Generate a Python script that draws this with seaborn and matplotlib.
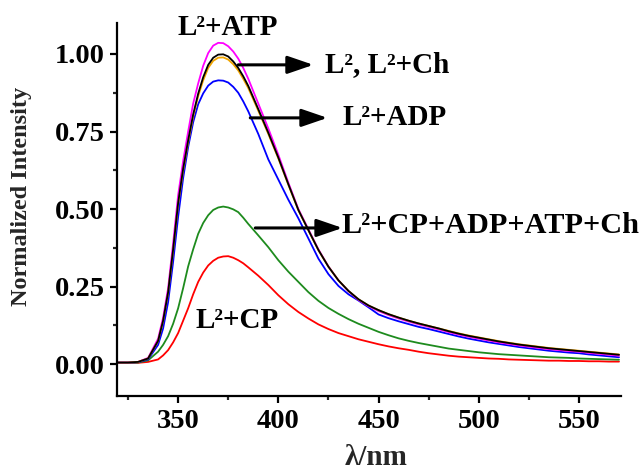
import numpy as np
import pandas as pd
import matplotlib
matplotlib.use("Agg")
import matplotlib.pyplot as plt
from matplotlib.ticker import MultipleLocator
import seaborn as sns

wavelength = [320, 325, 330, 335, 340, 342.5, 345, 347.5, 350, 352.5, 355, 357.5,
              360, 362.5, 365, 367.5, 370, 372.5, 375, 377.5, 380, 382.5, 385,
              390, 395, 400, 405, 410, 415, 420, 425, 430, 435, 440, 445, 450,
              455, 460, 465, 470, 475, 480, 485, 490, 495, 500, 505, 510, 515,
              520, 525, 530, 535, 540, 545, 550, 555, 560, 565, 570]

l2_atp = [0.005, 0.005, 0.007, 0.020, 0.082, 0.150, 0.245, 0.390, 0.545, 0.655,
          0.750, 0.840, 0.905, 0.962, 1.003, 1.027, 1.036, 1.035, 1.025, 1.008,
          0.985, 0.955, 0.920,
          0.840, 0.760, 0.675, 0.585, 0.500, 0.435, 0.370, 0.315, 0.270, 0.235,
          0.207, 0.187, 0.171, 0.158, 0.147, 0.137, 0.128, 0.120, 0.112, 0.103,
          0.095, 0.088, 0.082, 0.076, 0.070, 0.065, 0.060, 0.056, 0.052, 0.048,
          0.045, 0.042, 0.040, 0.036, 0.033, 0.030, 0.027]
l2 = [0.005, 0.005, 0.007, 0.018, 0.075, 0.140, 0.232, 0.370, 0.520, 0.630,
      0.722, 0.805, 0.872, 0.925, 0.965, 0.988, 0.998, 0.999, 0.992, 0.976,
      0.955, 0.928, 0.897,
      0.822, 0.746, 0.666, 0.580, 0.497, 0.432, 0.368, 0.314, 0.270, 0.236,
      0.209, 0.189, 0.174, 0.161, 0.150, 0.140, 0.131, 0.123, 0.115, 0.106,
      0.098, 0.091, 0.085, 0.079, 0.073, 0.068, 0.063, 0.059, 0.055, 0.051,
      0.048, 0.045, 0.042, 0.039, 0.036, 0.033, 0.030]
l2_ch = [0.005, 0.005, 0.007, 0.018, 0.074, 0.138, 0.230, 0.365, 0.515, 0.624,
         0.716, 0.798, 0.864, 0.915, 0.955, 0.978, 0.988, 0.989, 0.982, 0.967,
         0.947, 0.920, 0.890,
         0.817, 0.742, 0.663, 0.578, 0.496, 0.431, 0.367, 0.314, 0.270, 0.236,
         0.209, 0.189, 0.174, 0.161, 0.150, 0.140, 0.131, 0.123, 0.115, 0.107,
         0.099, 0.092, 0.086, 0.080, 0.074, 0.069, 0.064, 0.060, 0.056, 0.052,
         0.049, 0.046, 0.043, 0.040, 0.037, 0.034, 0.031]
l2_adp = [0.005, 0.005, 0.006, 0.015, 0.062, 0.115, 0.200, 0.330, 0.475, 0.600,
          0.700, 0.780, 0.838, 0.873, 0.898, 0.911, 0.915, 0.914, 0.908, 0.894,
          0.875, 0.847, 0.815,
          0.742, 0.660, 0.595, 0.530, 0.470, 0.405, 0.340, 0.290, 0.252, 0.225,
          0.205, 0.183, 0.160, 0.148, 0.138, 0.129, 0.120, 0.113, 0.105, 0.097,
          0.089, 0.082, 0.076, 0.070, 0.065, 0.060, 0.055, 0.051, 0.047, 0.043,
          0.040, 0.037, 0.035, 0.031, 0.028, 0.025, 0.022]
l2_mix = [0.004, 0.004, 0.005, 0.012, 0.040, 0.062, 0.090, 0.130, 0.180, 0.245,
          0.315, 0.370, 0.420, 0.455, 0.480, 0.497, 0.505, 0.508, 0.505, 0.499,
          0.490, 0.472, 0.452,
          0.415, 0.377, 0.335, 0.298, 0.265, 0.232, 0.204, 0.181, 0.162, 0.145,
          0.130, 0.117, 0.104, 0.093, 0.083, 0.075, 0.068, 0.062, 0.056, 0.050,
          0.046, 0.042, 0.038, 0.035, 0.032, 0.030, 0.028, 0.026, 0.024, 0.022,
          0.021, 0.020, 0.018, 0.017, 0.016, 0.015, 0.014]
l2_cp = [0.004, 0.004, 0.004, 0.007, 0.015, 0.028, 0.045, 0.070, 0.100, 0.140,
         0.180, 0.225, 0.265, 0.295, 0.318, 0.333, 0.343, 0.347, 0.348, 0.343,
         0.335, 0.325, 0.312,
         0.285, 0.255, 0.222, 0.193, 0.168, 0.147, 0.128, 0.113, 0.100, 0.090,
         0.080, 0.072, 0.064, 0.057, 0.051, 0.046, 0.040, 0.035, 0.031, 0.027,
         0.024, 0.022, 0.020, 0.018, 0.017, 0.015, 0.014, 0.013, 0.012, 0.011,
         0.011, 0.010, 0.010, 0.009, 0.009, 0.008, 0.008]

series_names = ["L2+CP", "L2+CP+ADP+ATP+Ch", "L2+ADP", "L2+ATP", "L2+Ch", "L2"]
series_values = [l2_cp, l2_mix, l2_adp, l2_atp, l2_ch, l2]
series_colors = ["#FF0000", "#1E8B1E", "#0000FF", "#FF00FF", "#F0A500", "#000000"]

x_ticks = [350, 400, 450, 500, 550]
y_ticks = [0.00, 0.25, 0.50, 0.75, 1.00]

df = pd.concat([pd.DataFrame({"wl": wavelength, "I": v, "s": n})
                for n, v in zip(series_names, series_values)], ignore_index=True)

sns.set_style("ticks")
plt.rcParams["font.family"] = ["Liberation Serif", "DejaVu Serif"]
plt.rcParams["font.weight"] = "bold"

fig = plt.figure(figsize=(6.44, 4.71), dpi=100)
ax = fig.add_axes([0.1817, 0.1592, 0.7826, 0.792])

sns.lineplot(data=df, x="wl", y="I", hue="s", hue_order=series_names,
             palette=dict(zip(series_names, series_colors)), linewidth=1.3,
             legend=False, ax=ax, sort=False)

ax.set_xlim(319.5, 571)
ax.set_ylim(-0.103, 1.10)
ax.set_xticks(x_ticks)
ax.set_yticks(y_ticks)
ax.set_xticklabels([str(t) for t in x_ticks])
ax.set_yticklabels([f"{t:.2f}" for t in y_ticks])
ax.xaxis.set_minor_locator(MultipleLocator(25))
ax.yaxis.set_minor_locator(MultipleLocator(0.125))
for s in ["top", "right"]:
    ax.spines[s].set_visible(False)
for s in ["left", "bottom"]:
    ax.spines[s].set_linewidth(1.6)
    ax.spines[s].set_color("black")
ax.tick_params(which="major", length=5, width=1.6, labelsize=20.5, pad=4, colors="black")
ax.tick_params(which="minor", length=3, width=1.6)
for lab in ax.get_xticklabels() + ax.get_yticklabels():
    lab.set_fontweight("bold")

ax.set_xlabel("λ/nm", fontsize=21, fontweight="bold")
ax.set_ylabel("Normalized Intensity", fontsize=17.5, fontweight="bold")
ax.xaxis.set_label_coords(0.513, -0.2)
ax.xaxis.label.set_va("bottom")
ax.yaxis.set_label_coords(-0.168, 0.535)

tkw = dict(fontsize=21, fontweight="bold", color="black", clip_on=False)
ax.text(375, 1.087, "L²+ATP", ha="center", va="center", **tkw)
ax.text(379.5, 0.142, "L²+CP", ha="center", va="center", **tkw)
ax.text(423.5, 0.965, "L², L²+Ch", ha="left", va="center", **tkw)
ax.text(432, 0.794, "L²+ADP", ha="left", va="center", **tkw)
ax.text(431.5, 0.448, "L²+CP+ADP+ATP+Ch", ha="left", va="center",
        **{**tkw, "fontsize": 21.8})

akw = dict(arrowstyle="-|>,head_length=1.05,head_width=0.36", color="black", lw=2.2,
           shrinkA=0, shrinkB=0, mutation_scale=15)
ax.annotate("", xy=(417.5, 0.965), xytext=(380, 0.965), arrowprops=akw)
ax.annotate("", xy=(424.5, 0.794), xytext=(386, 0.794), arrowprops=akw)
ax.annotate("", xy=(432, 0.439), xytext=(388.5, 0.439), arrowprops=akw)

fig.savefig("out.png", dpi=100)
